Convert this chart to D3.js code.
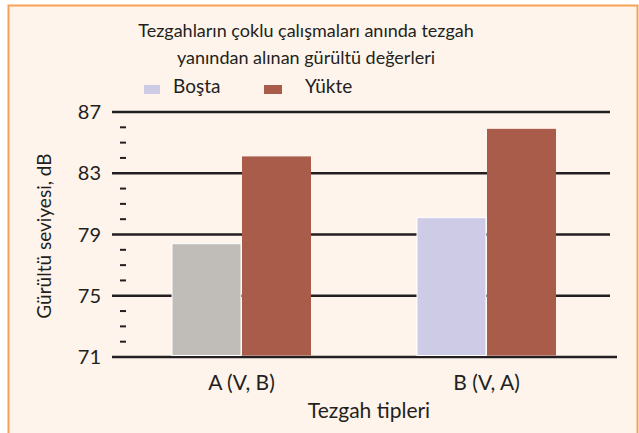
<!DOCTYPE html>
<html><head><meta charset="utf-8">
<script src="https://cdn.jsdelivr.net/npm/d3@7"></script>
<style>
html,body{margin:0;padding:0;background:#ffffff;}
svg{display:block;}
</style></head>
<body>
<svg id="chart" width="639" height="433"></svg>
<script>
const categories = ["A (V, B)", "B (V, A)"];
const seriesNames = ["Boşta", "Yükte"];
const bostaValues = [78.4, 80.1];
const yukteValues = [84.1, 85.9];
const majorTicks = [71, 75, 79, 83, 87];
const minorTicks = [72, 73, 74, 76, 77, 78, 80, 81, 82, 84, 85, 86];
const titleLines = ["Tezgahların çoklu çalışmaları anında tezgah", "yanından alınan gürültü değerleri"];
const yTitle = "Gürültü seviyesi, dB";
const xTitle = "Tezgah tipleri";

const font = "Lato, 'Open Sans', sans-serif";
const textColor = "#231f20";
const svg = d3.select("#chart");

// frame
svg.append("rect").attr("x", 8.5).attr("y", 5.5).attr("width", 629).attr("height", 440)
  .attr("fill", "#fef4eb").attr("stroke", "#f7a254").attr("stroke-width", 2);

const y = d3.scaleLinear().domain([71, 87]).range([357, 112]);
const x0 = d3.scaleBand().domain(categories).range([119, 609]).paddingInner(0.4286).paddingOuter(0.2143);
const x1 = d3.scaleBand().domain(seriesNames).range([0, x0.bandwidth()]).padding(0);
const colors = {"Boşta": ["#c0bcb8", "#cecbe6"], "Yükte": ["#a95c4a", "#a95c4a"]};

// gridlines
const grid = svg.append("g");
grid.selectAll("line").data(majorTicks).enter().append("line")
  .attr("x1", 112).attr("x2", d => d === 71 ? 617 : 610)
  .attr("y1", d => y(d)).attr("y2", d => y(d))
  .attr("stroke", "#231f20").attr("stroke-width", 2.5);

// minor ticks
svg.append("g").selectAll("line").data(minorTicks).enter().append("line")
  .attr("x1", 120).attr("x2", 126)
  .attr("y1", d => y(d)).attr("y2", d => y(d))
  .attr("stroke", "#231f20").attr("stroke-width", 2);

// y labels
svg.append("g").selectAll("text").data(majorTicks).enter().append("text")
  .attr("x", 101).attr("y", d => y(d) + 7)
  .attr("text-anchor", "end").attr("font-family", font).attr("font-size", 20)
  .attr("fill", textColor).text(d => d);

// bars
const data = categories.map((c, i) => ({cat: c, idx: i, vals: [
  {s: "Boşta", v: bostaValues[i]}, {s: "Yükte", v: yukteValues[i]}]}));
const groups = svg.append("g").selectAll("g").data(data).enter().append("g")
  .attr("transform", d => `translate(${x0(d.cat)},0)`);
groups.selectAll("rect").data(d => d.vals.map(v => ({...v, idx: d.idx}))).enter().append("rect")
  .attr("x", d => x1(d.s) + 0.5).attr("width", x1.bandwidth() - 1)
  .attr("y", d => y(d.v)).attr("height", d => y(71) - y(d.v) - 1.5)
  .attr("fill", d => colors[d.s][d.idx])
  .attr("stroke", d => d.s === "Boşta" ? "#ffffff" : "none").attr("stroke-width", 1);

// category labels
svg.append("g").selectAll("text").data(categories).enter().append("text")
  .attr("x", d => x0(d) + x0.bandwidth() / 2).attr("y", 390)
  .attr("text-anchor", "middle").attr("font-family", font).attr("font-size", 21)
  .attr("fill", textColor).text(d => d);

// axis titles
svg.append("text").attr("x", 369).attr("y", 418).attr("text-anchor", "middle")
  .attr("font-family", font).attr("font-size", 21).attr("fill", textColor).text(xTitle);
svg.append("text").attr("transform", "translate(51,236) rotate(-90)").attr("text-anchor", "middle")
  .attr("font-family", font).attr("font-size", 19).attr("fill", textColor).text(yTitle);

// title
svg.append("g").selectAll("text").data(titleLines).enter().append("text")
  .attr("x", 306).attr("y", (d, i) => 37 + i * 27).attr("text-anchor", "middle")
  .attr("font-family", font).attr("font-size", 18).attr("fill", textColor).text(d => d);

// legend
const legendX = [144, 264];
const leg = svg.append("g").selectAll("g").data(seriesNames).enter().append("g")
  .attr("transform", (d, i) => `translate(${legendX[i]},85)`);
leg.append("rect").attr("width", d => d === "Boşta" ? 16 : 18).attr("height", 9)
  .attr("fill", d => colors[d][1]);
leg.append("text").attr("x", (d, i) => i === 0 ? 29 : 41).attr("y", 8)
  .attr("font-family", font).attr("font-size", 19).attr("fill", textColor).text(d => d);
</script>
</body></html>
